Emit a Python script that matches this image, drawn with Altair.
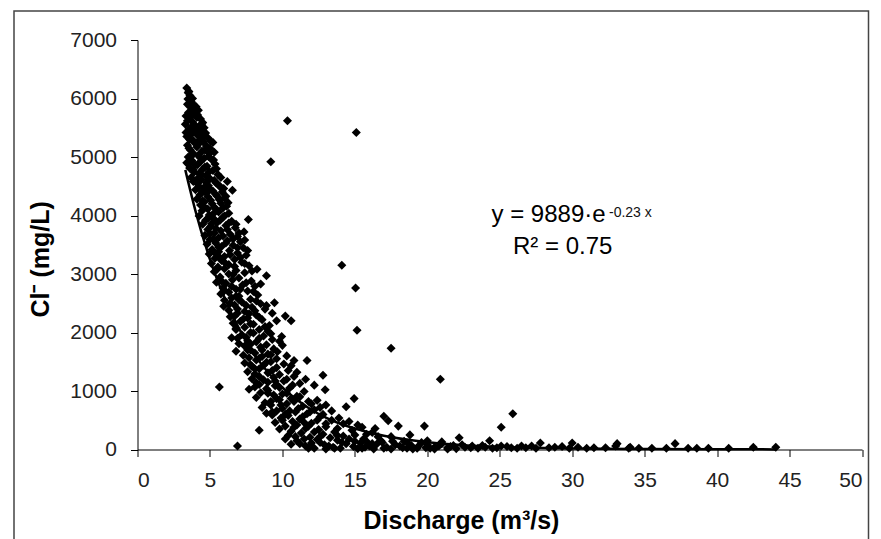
import altair as alt
import pandas as pd

# ---- scatter data: (discharge m3/s, chloride mg/L) ----
upper_q = [3.40, 3.55, 3.62, 3.48, 3.70, 3.85, 3.60, 4.05, 3.75, 4.20, 3.52, 3.95,
           3.35, 3.65, 4.10, 4.35, 3.45, 3.80, 4.50, 3.30, 4.00, 4.25, 4.60, 3.55, 3.90, 4.40, 3.35, 4.70,
           3.70, 4.15, 3.40, 4.85, 5.20, 3.60, 4.30, 4.55, 3.95, 3.45, 4.75, 4.10, 5.00, 3.65, 4.45, 5.30, 3.85, 4.20, 4.90, 3.50,
           4.60, 5.10, 3.75, 4.35, 3.40, 5.35, 4.00, 4.80, 3.60, 4.50, 5.20, 3.90, 4.25, 5.55, 4.70, 3.70, 5.00, 4.40,
           3.50, 3.80, 3.45, 3.90, 4.15, 3.60, 4.45, 3.75, 4.05, 3.50, 4.60, 3.85, 5.05, 4.20, 3.55, 4.65, 4.95, 3.75, 4.30, 5.25,
           3.55, 4.15, 4.65, 5.45, 3.85, 4.95, 4.40, 5.75, 4.10, 5.30, 4.75, 5.60, 4.25, 5.00, 5.95, 4.45, 5.40, 4.85, 6.10, 5.65,
           4.50, 5.15, 6.25, 5.90, 4.60, 5.45]
upper_cl = [6180, 6120, 6050, 5990, 5950, 5900, 5880, 5860, 5820, 5800, 5760, 5740,
            5700, 5690, 5680, 5650, 5620, 5600, 5590, 5560, 5540, 5520, 5500, 5480, 5460, 5440, 5420, 5410,
            5390, 5370, 5350, 5330, 5250, 5300, 5290, 5260, 5240, 5200, 5190, 5170, 5150, 5120, 5100, 5080, 5060, 5030, 5010, 5000,
            4980, 4960, 4940, 4920, 4900, 4880, 4860, 4840, 4810, 4790, 4770, 4740, 4720, 4700, 4680, 4650, 4630, 4610,
            6100, 6000, 5900, 5780, 5720, 5650, 5570, 5520, 5430, 5380, 5350, 5280, 5270, 5220, 5150, 5120, 5060, 5020, 4990, 4950,
            4880, 4870, 4830, 4800, 4780, 4750, 4700, 4650, 4620, 4600, 4560, 4520, 4490, 4450, 4460, 4400, 4360, 4320, 4330, 4270,
            4250, 4200, 4220, 4130, 4150, 4100]

middle_q = [6.20, 6.55, 3.85, 5.40, 4.15, 4.90, 5.70, 4.55, 4.00, 5.20, 5.85, 4.75, 4.30, 5.50, 6.00, 4.10, 5.05, 4.60, 5.75, 4.35, 6.15, 5.30, 4.85,
            4.45, 5.60, 6.30, 4.95, 4.25, 5.90, 5.25, 7.65, 4.70, 6.50, 5.50, 4.50, 6.10, 5.05, 6.75, 4.85, 5.75, 7.35, 5.30, 6.40, 4.65, 6.90, 5.60,
            5.00, 6.20, 7.10, 5.40, 4.80, 6.60, 5.80, 7.30, 5.15, 6.35, 5.60, 6.90, 4.95, 7.50, 6.00, 5.35, 6.70, 5.80, 7.20, 5.10, 6.30, 7.70, 5.55,
            6.00, 8.25, 6.80, 5.30, 7.40, 6.30, 8.90, 5.70, 7.00, 6.55, 7.85, 5.45, 6.10, 7.25, 8.10, 5.90, 6.80, 7.60, 6.30, 5.75, 8.30, 7.00,
            5.20, 6.00, 4.90, 5.70, 6.30, 5.10, 6.80, 5.40, 6.20, 7.00, 5.00, 5.90, 6.60, 5.25, 7.40, 6.10, 5.60, 6.90, 7.60, 5.40,
            6.40, 7.10, 5.60, 6.00, 7.40, 6.70, 5.50, 7.90, 6.60, 5.80, 7.50, 8.50, 6.50, 7.10, 8.00, 6.00, 6.80]
middle_cl = [4580, 4430, 4580, 4560, 4540, 4510, 4490, 4470, 4440, 4420, 4400, 4380, 4350, 4330, 4300, 4280, 4260, 4230, 4210, 4180, 4160, 4140, 4110,
             4080, 4060, 4040, 4010, 3990, 3970, 3950, 3930, 3920, 3900, 3880, 3850, 3830, 3810, 3790, 3760, 3740, 3720, 3700, 3680, 3660, 3640, 3620,
             3590, 3570, 3550, 3530, 3510, 3490, 3470, 3450, 3420, 3400, 3380, 3360, 3340, 3320, 3300, 3270, 3250, 3230, 3200, 3180, 3160, 3140, 3120,
             3090, 3080, 3060, 3040, 3020, 3000, 2970, 2950, 2930, 2900, 2880, 2860, 2840, 2810, 2790, 2760, 2740, 2710, 2690, 2660, 2640, 2620,
             4020, 3990, 3960, 3920, 3870, 3860, 3850, 3780, 3760, 3700, 3690, 3650, 3600, 3600, 3580, 3530, 3460, 3450, 3400, 3350,
             3330, 3280, 3300, 3200, 3180, 3130, 3080, 3050, 2990, 2880, 2850, 2830, 2790, 2740, 2700, 2720, 2620]

lower_q = [6.50, 7.80, 6.00, 9.45, 7.20, 8.50, 6.70, 5.95, 7.90, 8.80, 6.30, 7.40, 6.90, 8.20, 10.20, 6.40, 7.60, 10.60, 8.60, 7.10, 6.60, 8.00, 9.10,
           7.40, 6.80, 8.40, 9.00, 7.80, 6.90, 9.95, 7.20, 8.70, 6.50, 9.30, 7.60, 8.20, 7.00, 9.65, 8.90, 7.40, 8.50, 9.40, 7.80, 6.80, 8.10, 9.00, 7.30,
           10.80, 11.70, 8.60, 7.70, 9.60, 8.20, 9.20, 7.40, 10.10, 8.70, 7.90, 9.60, 8.40, 10.40, 7.60, 9.00, 12.80, 8.10, 10.80, 9.40, 7.90, 8.70,
           10.10, 9.00, 11.20, 8.40, 5.65,
           7.00, 8.20, 6.40, 7.50, 8.90, 6.90, 8.10, 7.70, 9.30, 6.70, 8.40, 7.30, 9.60, 7.80, 8.80, 6.80, 8.00, 9.20, 7.50, 8.40,
           9.80, 7.80, 8.60, 10.00, 7.60, 9.20, 8.40, 10.30, 8.90, 7.80, 10.60, 9.30, 8.10, 11.00, 9.80, 8.40, 10.30, 11.60, 9.50,
           8.20, 10.70, 9.80, 12.20, 8.90]
lower_cl = [2590, 2570, 2550, 2510, 2520, 2490, 2470, 2450, 2430, 2400, 2380, 2360, 2330, 2300, 2280, 2270, 2250, 2200, 2220, 2190, 2160, 2140, 2120,
            2090, 2070, 2050, 2020, 2000, 1900, 1930, 1960, 1940, 1910, 1880, 1860, 1840, 1810, 1670, 1790, 1770, 1750, 1720, 1700, 1680, 1650, 1630, 1610,
            1520, 1520, 1590, 1570, 1550, 1530, 1500, 1480, 1460, 1440, 1420, 1400, 1380, 1350, 1330, 1310, 1270, 1290, 1250, 1230, 1210, 1190,
            1170, 1150, 1130, 1110, 1070,
            2560, 2540, 2500, 2460, 2460, 2400, 2370, 2320, 2330, 2280, 2260, 2230, 2200, 2150, 2100, 2050, 1990, 1980, 1920, 1900,
            1850, 1800, 1700, 1780, 1700, 1620, 1560, 1600, 1490, 1450, 1430, 1350, 1380, 1320, 1280, 1250, 1200, 1200, 1170,
            1140, 1100, 1060, 1100, 1040]

low_q = [7.70, 12.95, 9.50, 8.10, 10.50, 9.00, 11.50, 8.50, 10.00, 9.40, 11.00, 12.40, 8.20, 10.60, 14.95, 9.80, 11.80, 8.80, 13.00, 10.30, 9.20,
         11.40, 14.40, 8.60, 10.00, 12.20, 9.60, 10.90, 8.90, 11.70,
         8.40, 9.30, 10.40, 12.60, 17.00, 9.90, 11.20, 13.40, 17.30, 10.70, 9.50, 12.00, 14.20, 18.00, 19.80, 11.00, 10.20, 13.00, 15.50,
         11.60, 9.80, 12.50, 14.80, 10.60, 13.60, 16.20, 11.30, 12.80, 15.00, 10.40, 14.20, 17.50, 11.90, 13.30,
         9.00, 10.30, 11.20, 9.60, 10.80, 12.00, 9.20, 11.10, 12.60, 9.90, 10.50, 11.90, 13.40, 9.30, 10.20, 11.40, 12.80, 13.90,
         10.00, 11.50, 12.40, 13.00, 14.60, 10.80, 11.80, 12.20, 13.80, 15.20, 16.40]
low_cl = [1030, 1020, 1090, 1070, 1050, 1010, 990, 970, 950, 930, 910, 840, 890, 870, 870, 850, 820, 800, 760, 780, 760,
          740, 730, 720, 700, 680, 660, 640, 620, 610,
          330, 590, 580, 560, 570, 540, 520, 500, 490, 480, 460, 450, 440, 400, 400, 420, 400, 390, 380,
          360, 350, 340, 330, 310, 300, 290, 280, 260, 250, 240, 230, 220, 210, 200,
          960, 960, 900, 870, 820, 780, 820, 700, 720, 760, 660, 640, 660, 640, 600, 560, 600, 540,
          500, 460, 500, 440, 480, 380, 400, 300, 360, 420, 360]

tail_q = [6.90, 10.20, 11.00, 12.40, 13.80, 15.60, 16.80, 18.40, 19.60, 22.20, 24.30, 10.60, 11.60, 12.00, 12.90, 13.50, 14.40, 14.90,
          15.40, 16.00, 16.50, 17.20, 17.80, 18.30, 18.90, 19.30, 20.00, 20.50, 21.00, 21.40, 21.80, 22.60, 23.10, 23.50, 24.00, 24.80,
          25.50, 26.20, 26.80, 27.20, 27.80, 28.40, 29.30, 30.00, 30.40, 31.50, 33.00, 33.10, 33.90, 34.00, 34.60, 37.10, 38.00, 38.60,
          39.40, 42.50, 44.05, 12.20, 13.00, 14.00, 15.20, 16.30, 17.50, 19.00, 20.50, 22.00, 15.80, 21.00, 20.00,
          10.90, 11.50, 12.60, 13.80, 14.60, 15.80, 16.60, 18.80, 11.20, 12.60, 13.20, 14.10, 15.00, 15.70, 16.20, 16.90, 17.60,
          18.10, 18.70, 19.40, 19.90, 20.80, 21.60, 22.40, 23.00, 23.80, 24.50, 25.10, 25.80, 26.50, 27.50, 28.80, 29.80, 31.00,
          32.30, 35.50, 36.50, 40.80, 11.80, 13.60, 15.50, 17.00, 18.60, 20.20, 21.40]
tail_cl = [60, 180, 150, 170, 160, 180, 150, 140, 120, 200, 150, 90, 60, 110, 80, 40, 100, 50,
           110, 60, 90, 40, 80, 30, 70, 20, 80, 40, 100, 30, 70, 40, 60, 20, 40, 30,
           50, 20, 30, 60, 110, 30, 50, 110, 40, 30, 60, 100, 20, 40, 20, 100, 20, 20,
           20, 40, 40, 20, 10, 20, 15, 10, 10, 10, 10, 15, 140, 130, 150,
           220, 180, 220, 240, 180, 260, 220, 250, 100, 120, 60, 120, 140, 40, 100, 120, 140,
           60, 100, 60, 30, 60, 50, 80, 30, 70, 20, 60, 30, 60, 20, 40, 20, 20,
           30, 20, 20, 20, 20, 20, 20, 20, 20, 20, 10]

outlier_q = [10.35, 15.10, 9.20, 14.10, 15.05, 15.15, 17.50, 20.90, 25.90, 25.10]
outlier_cl = [5620, 5420, 4920, 3150, 2760, 2040, 1730, 1200, 610, 380]

# ---- exponential trend line ----
trend_q = [3.3, 4, 5, 6, 7, 8, 9, 10, 11, 12, 13, 14, 15, 17, 20, 25, 30, 35, 40, 44]
trend_cl = [4780, 4080, 3250, 2600, 2070, 1650, 1320, 1060, 850, 680, 545, 440, 360, 235, 125, 45, 18, 8, 4, 2]

x_ticks = [0, 5, 10, 15, 20, 25, 30, 35, 40, 45, 50]
y_ticks = [0, 1000, 2000, 3000, 4000, 5000, 6000, 7000]

points = pd.DataFrame({
    "q": upper_q + middle_q + lower_q + low_q + tail_q + outlier_q,
    "cl": upper_cl + middle_cl + lower_cl + low_cl + tail_cl + outlier_cl,
})
trend = pd.DataFrame({"q": trend_q, "cl": trend_cl})

FONT = "Liberation Sans"
xs = alt.Scale(domain=[0, 50], nice=False, zero=False)
ys = alt.Scale(domain=[0, 7000], nice=False)

x_axis = alt.Axis(
    values=x_ticks, format="d", grid=False, title="Discharge (m³/s)", domainColor="black",
    tickColor="black", tickSize=7, labelPadding=13, labelFont=FONT, labelFontSize=21,
    labelColor="#222", titleFont=FONT, titleFontSize=25,
    titleFontWeight="bold", titleColor="black", titlePadding=18,
    titleAlign="left", titleX=225.5, titleAnchor="start")
y_axis = alt.Axis(
    values=y_ticks, format="d", grid=False, title="Cl⁻ (mg/L)", domainColor="black",
    tickColor="black", tickSize=7, labelPadding=14, labelFont=FONT, labelFontSize=21,
    labelColor="#222", titleFont=FONT, titleFontSize=25, titleFontWeight="bold",
    titleColor="black", titlePadding=16, titleAlign="left", titleY=277, titleAnchor="start")

scatter = alt.Chart(points).mark_point(
    shape="diamond", filled=True, color="black", size=82, opacity=1
).encode(
    x=alt.X("q:Q", scale=xs, axis=x_axis),
    y=alt.Y("cl:Q", scale=ys, axis=y_axis),
)

line = alt.Chart(trend).mark_line(color="black", strokeWidth=2.5, interpolate="monotone").encode(
    x=alt.X("q:Q", scale=xs, axis=x_axis),
    y=alt.Y("cl:Q", scale=ys, axis=y_axis),
)

one = pd.DataFrame({"k": [0]})
frame = alt.Chart(one).mark_rect(filled=False, stroke="#444", strokeWidth=1.5).encode(
    x=alt.value(-123.5), x2=alt.value(731), y=alt.value(-29), y2=alt.value(520)
)
eq_main = alt.Chart(one).mark_text(font=FONT, fontSize=24, align="left", baseline="alphabetic", color="black").encode(
    x=alt.value(354), y=alt.value(181.5), text=alt.value("y = 9889·e")
)
eq_sup = alt.Chart(one).mark_text(font=FONT, fontSize=14, align="left", baseline="alphabetic", color="#111").encode(
    x=alt.value(471.5), y=alt.value(177), text=alt.value("-0.23 x")
)
r2 = alt.Chart(one).mark_text(font=FONT, fontSize=24, align="left", baseline="alphabetic", color="black").encode(
    x=alt.value(375.5), y=alt.value(214), text=alt.value("R² = 0.75")
)

chart = alt.layer(scatter, line, frame, eq_main, eq_sup, r2).properties(
    width=724.5, height=409.5,
    autosize=alt.AutoSizeParams(type="none"),
    padding={"left": 137.5, "top": 40, "right": 19, "bottom": 89.5},
    background="white",
).configure_view(stroke=None)

chart.save("out.html", embed_options={"renderer": "svg", "actions": False})
